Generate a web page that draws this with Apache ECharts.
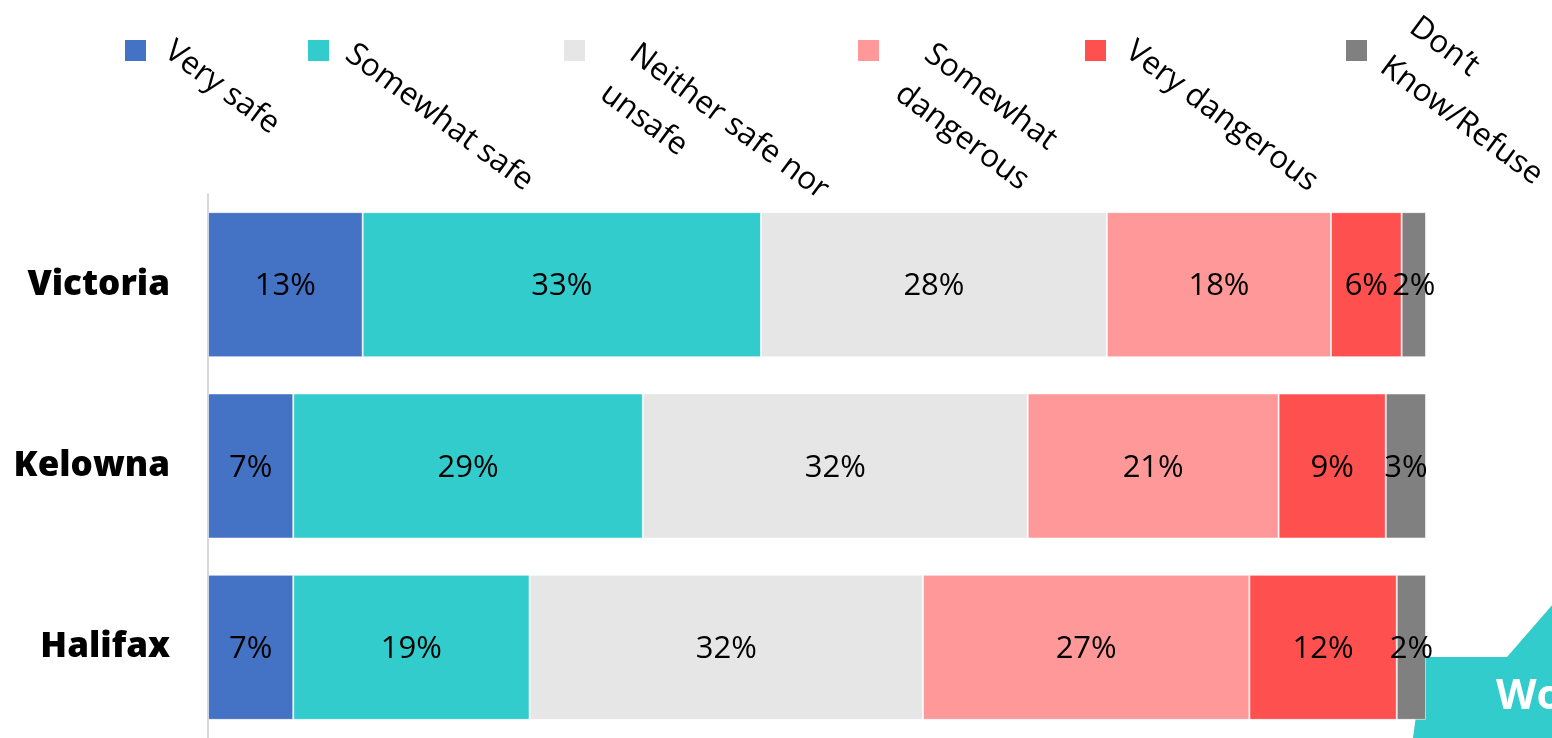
<!DOCTYPE html>
<html>
<head>
<meta charset="utf-8">
<style>
  html, body { margin: 0; padding: 0; background: #fff; }
  #chart { width: 1552px; height: 738px; }
</style>
<script src="https://cdn.jsdelivr.net/npm/echarts@6/dist/echarts.min.js"></script>
</head>
<body>
<div id="chart"></div>
<script>
// Cities, top to bottom
const cities = ['Victoria', 'Kelowna', 'Halifax'];

// Response categories (stack order, left to right)
const responses = ['Very safe', 'Somewhat safe', 'Neither safe nor\nunsafe', 'Somewhat\ndangerous', 'Very dangerous', 'Don\u2019t\nKnow/Refuse'];

// Share of respondents (%) per response, in city order
const verySafe      = [12.7,  7.0,  7.0];
const somewhatSafe  = [32.7, 28.7, 19.4];
const neither       = [28.4, 31.6, 32.3];
const somewhatDang  = [18.4, 20.6, 26.8];
const veryDang      = [ 5.8,  8.8, 12.1];
const dontKnow      = [ 2.0,  3.3,  2.4];

const seriesValues = [verySafe, somewhatSafe, neither, somewhatDang, veryDang, dontKnow];
const colors = ['#4472C4', '#33CCCC', '#E6E6E6', '#FF9999', '#FF5050', '#808080'];

const FONT = '"Open Sans", "Noto Sans", sans-serif';

// Legend placement: swatch x, text anchor (first glyph top-left)
const legendSwatchX = [125, 308, 564, 858, 1085, 1346];
const legendTextAt  = [[167, 37], [348, 40], [632, 40], [927, 40], [1128, 37], [1412, 13]];
const LEGEND_ANGLE = 36.5 * Math.PI / 180;

const chart = echarts.init(document.getElementById('chart'), null, { renderer: 'canvas' });

const series = seriesValues.map((vals, i) => ({
  name: responses[i],
  type: 'bar',
  stack: 'total',
  barCategoryGap: '20%',
  data: vals,
  itemStyle: { color: colors[i], borderColor: 'rgba(255,255,255,0.55)', borderWidth: 1 },
  label: {
    show: true,
    position: 'inside',
    offset: [0, 2],
    color: '#000',
    fontFamily: FONT,
    fontSize: 31,
    formatter: p => Math.round(p.value) + '%'
  },
  emphasis: { disabled: true }
}));

// Rotated legend built as graphic elements
const legendGraphics = [];
responses.forEach((name, i) => {
  legendGraphics.push({
    type: 'rect',
    shape: { x: legendSwatchX[i], y: 40, width: 21, height: 21 },
    style: { fill: colors[i] }
  });
  // shift anchor so the glyph tops land on the listed points
  const up = 11;
  const ax = legendTextAt[i][0] + 9 + up * Math.sin(LEGEND_ANGLE);
  const ay = legendTextAt[i][1] - up * Math.cos(LEGEND_ANGLE);
  legendGraphics.push({
    type: 'text',
    x: ax,
    y: ay,
    rotation: -LEGEND_ANGLE,
    style: {
      text: name,
      fill: '#000',
      fontFamily: FONT,
      fontSize: 31.5,
      lineHeight: 49,
      align: 'left',
      verticalAlign: 'top'
    }
  });
});

// Teal slide shape peeking in at the lower right corner
legendGraphics.push({
  type: 'polygon',
  z: -10,
  shape: { points: [[1424, 657], [1507, 657], [1560, 596], [1560, 745], [1412, 745]] },
  style: { fill: '#33CCCC' }
});
legendGraphics.push({
  type: 'text',
  z: -9,
  x: 1496,
  y: 676,
  style: { text: 'Wo', fill: '#fff', fontFamily: FONT, fontWeight: 'bold', fontSize: 42, verticalAlign: 'top' }
});

chart.setOption({
  animation: false,
  backgroundColor: '#fff',
  grid: { left: 208, right: 126, top: 194, height: 548, containLabel: false },
  xAxis: {
    type: 'value',
    min: 0,
    max: 100,
    show: false,
    splitLine: { show: false }
  },
  yAxis: {
    type: 'category',
    data: cities,
    inverse: true,
    axisLine: { show: true, lineStyle: { color: '#D9D9D9', width: 2 } },
    axisTick: { show: false },
    axisLabel: {
      color: '#000',
      fontFamily: FONT,
      fontWeight: 800,
      fontSize: 35,
      margin: 38,
      padding: [2, 0, 0, 0]
    }
  },
  series: series,
  graphic: legendGraphics
});
</script>
</body>
</html>
